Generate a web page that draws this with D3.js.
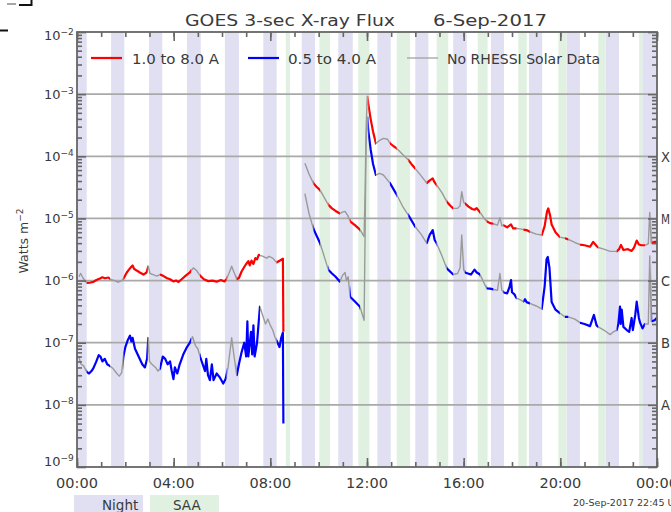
<!DOCTYPE html>
<html>
<head>
<meta charset="utf-8">
<script src="https://cdn.jsdelivr.net/npm/d3@7"></script>
<style>
  body { margin: 0; background: #fff; }
  svg { display: block; }
  text { font-family: "DejaVu Sans", "Liberation Sans", sans-serif; fill: #3a3a3a; }
</style>
</head>
<body>
<svg id="chart" width="671" height="512"></svg>
<script>
// GOES 3-second X-ray flux, 6 Sep 2017 (hours UT, W m^-2). null marks the data gap.
const longHours = [
  0.08,0.15,0.25,0.40,0.55,0.68,0.80,0.95,1.05,1.15,1.30,1.40,1.55,1.71,1.85,1.95,2.06,2.15,2.22,2.30,
  2.36,2.47,2.60,2.75,2.88,2.95,3.02,3.15,3.30,3.43,3.55,3.71,3.85,3.99,4.10,4.20,4.33,4.50,4.67,4.81,
  4.95,5.09,5.25,5.43,5.60,5.78,5.95,6.10,6.19,6.30,6.40,6.50,6.61,6.70,6.81,6.92,7.00,7.09,7.15,7.22,
  7.30,7.38,7.45,7.52,7.57,7.70,7.85,7.95,8.10,8.26,8.40,8.52,8.54,8.90,
  9.43,9.60,9.78,9.92,10.06,10.25,10.40,10.55,10.70,10.88,10.98,11.09,11.20,11.30,11.50,11.71,11.88,11.92,11.96,12.01,
  12.05,12.15,12.25,12.37,12.50,12.68,12.85,12.95,13.10,13.23,13.50,13.71,13.85,13.99,14.25,14.47,14.60,14.72,14.80,14.88,
  15.10,15.30,15.45,15.57,15.75,15.85,15.92,16.00,16.05,16.20,16.35,16.45,16.54,16.68,16.85,16.95,17.09,17.23,17.40,17.50,
  17.58,17.64,17.80,17.96,18.05,18.19,18.35,18.47,18.60,18.74,19.00,19.23,19.35,19.45,19.50,19.58,19.64,19.80,19.98,20.19,
  20.33,20.60,20.81,21.00,21.23,21.36,21.50,21.57,21.80,22.06,22.33,22.43,22.51,22.61,22.80,22.95,23.05,23.16,23.25,23.35,
  23.50,23.64,23.70,23.76,23.90,23.99
];
const longFlux = [
  1.15e-6,1.30e-6,1.10e-6,0.92e-6,0.93e-6,0.95e-6,1.02e-6,1.08e-6,1.13e-6,1.09e-6,1.12e-6,1.04e-6,1.00e-6,0.94e-6,1.00e-6,1.12e-6,1.35e-6,1.50e-6,1.62e-6,1.75e-6,
  1.55e-6,1.45e-6,1.35e-6,1.25e-6,1.35e-6,1.70e-6,1.30e-6,1.25e-6,1.18e-6,1.25e-6,1.20e-6,1.10e-6,1.05e-6,0.97e-6,1.00e-6,0.95e-6,1.05e-6,1.20e-6,1.35e-6,1.60e-6,
  1.45e-6,1.20e-6,1.05e-6,0.98e-6,1.00e-6,0.96e-6,1.02e-6,0.97e-6,1.05e-6,1.35e-6,1.70e-6,1.35e-6,1.05e-6,1.10e-6,1.40e-6,1.65e-6,1.85e-6,2.05e-6,1.75e-6,2.10e-6,
  1.85e-6,2.30e-6,2.20e-6,2.60e-6,2.55e-6,2.45e-6,2.30e-6,2.45e-6,2.30e-6,1.95e-6,2.10e-6,2.25e-6,1.50e-7,null,
  7.7e-5,5.2e-5,3.7e-5,3.2e-5,2.85e-5,2.1e-5,1.65e-5,1.45e-5,1.32e-5,1.20e-5,1.26e-5,1.30e-5,1.12e-5,9.0e-6,7.8e-6,6.6e-6,5.1e-6,2.5e-5,2.5e-4,9.3e-4,
  7.1e-4,4.0e-4,2.5e-4,1.6e-4,1.78e-4,1.94e-4,1.88e-4,1.62e-4,1.45e-4,1.34e-4,1.05e-4,8.7e-5,7.4e-5,6.4e-5,4.8e-5,3.7e-5,4.1e-5,4.4e-5,3.8e-5,3.45e-5,
  2.6e-5,1.86e-5,1.6e-5,1.45e-5,1.45e-5,1.6e-5,2.7e-5,1.8e-5,1.75e-5,1.55e-5,1.42e-5,1.38e-5,1.46e-5,1.25e-5,1.0e-5,9.0e-6,8.4e-6,8.2e-6,7.8e-6,1.03e-5,
  7.6e-6,7.8e-6,7.2e-6,8.0e-6,6.9e-6,6.9e-6,6.8e-6,6.6e-6,6.5e-6,6.1e-6,5.6e-6,5.4e-6,7.5e-6,1.3e-5,1.45e-5,1.1e-5,8.0e-6,6.0e-6,5.0e-6,4.8e-6,
  4.6e-6,4.1e-6,3.8e-6,3.7e-6,3.5e-6,4.2e-6,3.6e-6,3.4e-6,3.2e-6,2.95e-6,2.95e-6,3.2e-6,3.75e-6,3.1e-6,3.2e-6,3.0e-6,3.4e-6,4.4e-6,3.8e-6,3.7e-6,
  3.7e-6,3.9e-6,1.25e-5,4.0e-6,4.2e-6,4.2e-6
];

const shortHours = [
  0.08,0.15,0.28,0.40,0.50,0.60,0.68,0.80,0.90,0.97,1.05,1.15,1.25,1.37,1.50,1.65,1.75,1.85,1.92,2.00,
  2.10,2.19,2.25,2.30,2.40,2.55,2.70,2.81,2.90,2.95,3.00,3.10,3.25,3.35,3.43,3.55,3.65,3.75,3.85,3.92,
  3.99,4.05,4.15,4.25,4.40,4.55,4.67,4.78,4.90,5.00,5.09,5.20,5.30,5.35,5.42,5.50,5.58,5.65,5.78,5.90,
  6.05,6.15,6.25,6.40,6.50,6.61,6.70,6.81,6.92,7.00,7.05,7.09,7.20,7.25,7.30,7.35,7.45,7.57,7.65,7.80,
  7.90,8.00,8.10,8.20,8.30,8.38,8.45,8.52,8.54,8.90,
  9.43,9.60,9.78,9.92,10.06,10.25,10.40,10.55,10.70,10.88,10.98,11.09,11.15,11.22,11.30,11.50,11.71,11.88,11.92,11.96,
  12.01,12.05,12.15,12.25,12.37,12.52,12.68,12.95,13.23,13.50,13.71,13.99,14.25,14.47,14.60,14.72,14.80,14.88,15.10,15.30,
  15.57,15.75,15.85,15.92,16.00,16.05,16.30,16.45,16.54,16.68,16.85,16.95,17.09,17.23,17.40,17.50,17.58,17.64,17.80,17.90,
  17.96,18.00,18.10,18.19,18.35,18.47,18.54,18.60,18.74,19.00,19.23,19.35,19.43,19.48,19.55,19.64,19.80,19.98,20.19,20.33,
  20.60,20.81,21.00,21.23,21.39,21.50,21.57,21.80,22.06,22.20,22.33,22.40,22.47,22.50,22.54,22.61,22.75,22.85,22.95,23.00,
  23.10,23.16,23.25,23.30,23.40,23.50,23.64,23.70,23.76,23.90,23.99
];
const shortFlux = [
  6.0e-8,4.6e-8,4.2e-8,3.4e-8,3.2e-8,3.5e-8,3.9e-8,5.0e-8,6.3e-8,6.0e-8,5.0e-8,5.5e-8,4.5e-8,4.2e-8,3.8e-8,3.2e-8,2.9e-8,3.3e-8,6.0e-8,8.5e-8,
  1.10e-7,1.30e-7,1.05e-7,1.20e-7,8.0e-8,6.0e-8,4.5e-8,4.0e-8,5.5e-8,1.20e-7,5.0e-8,4.5e-8,4.0e-8,3.5e-8,3.8e-8,6.0e-8,5.5e-8,4.5e-8,5.0e-8,3.5e-8,
  2.6e-8,4.0e-8,3.2e-8,4.5e-8,6.5e-8,8.5e-8,1.00e-7,1.25e-7,9.0e-8,8.0e-8,6.0e-8,4.5e-8,3.5e-8,5.5e-8,3.0e-8,2.5e-8,4.5e-8,2.5e-8,3.2e-8,2.8e-8,
  2.2e-8,2.6e-8,4.0e-8,1.20e-7,6.0e-8,3.0e-8,4.5e-8,7.0e-8,1.00e-7,6.0e-8,2.2e-7,6.0e-8,1.50e-7,6.5e-8,1.90e-7,6.0e-8,1.00e-7,3.8e-7,3.0e-7,2.0e-7,
  2.4e-7,1.9e-7,1.6e-7,1.2e-7,1.0e-7,8.5e-8,1.2e-7,1.45e-7,5.0e-9,null,
  2.5e-5,1.2e-5,6.9e-6,5.2e-6,4.0e-6,2.3e-6,1.5e-6,1.3e-6,1.15e-6,9.6e-7,1.2e-6,1.35e-6,1.0e-6,1.15e-6,5.5e-7,4.6e-7,3.8e-7,2.3e-7,5.0e-6,1.5e-4,
  4.3e-4,2.65e-4,1.3e-4,7.5e-5,5.0e-5,5.3e-5,5.0e-5,3.7e-5,2.4e-5,1.5e-5,1.13e-5,7.4e-6,5.5e-6,4.0e-6,5.5e-6,6.5e-6,4.5e-6,4.0e-6,2.5e-6,1.57e-6,
  1.25e-6,1.3e-6,1.6e-6,5.4e-6,1.5e-6,1.35e-6,1.25e-6,1.5e-6,1.35e-6,1.25e-6,9.0e-7,7.5e-7,7.4e-7,7.2e-7,7.0e-7,1.3e-6,7.0e-7,6.5e-7,6.2e-7,8.0e-7,
  1.02e-6,6.5e-7,6.0e-7,5.2e-7,4.9e-7,4.6e-7,5.0e-7,4.5e-7,4.3e-7,3.9e-7,3.5e-7,8.0e-7,2.2e-6,2.4e-6,1.6e-6,4.5e-7,3.4e-7,3.0e-7,2.6e-7,2.6e-7,
  2.4e-7,2.1e-7,2.0e-7,1.85e-7,2.8e-7,1.9e-7,1.8e-7,1.6e-7,1.35e-7,1.5e-7,1.6e-7,2.0e-7,3.8e-7,2.0e-7,3.4e-7,1.8e-7,1.6e-7,1.5e-7,2.5e-7,1.6e-7,
  2.8e-7,4.6e-7,2.5e-7,2.1e-7,1.7e-7,2.0e-7,2.0e-7,2.5e-6,2.2e-7,2.3e-7,2.5e-7
];

// Spacecraft night and South Atlantic Anomaly passes (hours UT)
const nightBands = [
  [0.00,0.40],[1.41,1.96],[2.98,3.53],[4.55,5.12],[6.12,6.70],[7.71,8.26],[9.30,9.85],[10.81,11.41],
  [12.43,12.98],[14.00,14.54],[15.57,16.13],[17.13,17.67],[18.70,19.25],[20.26,20.81],[21.88,22.43],[23.39,24.00]
];
const saaBands = [
  [8.64,8.81],[10.03,10.47],[11.64,12.10],[13.23,13.78],[14.88,15.36],[16.58,16.99],[18.26,18.61],
  [19.92,20.26],[21.57,21.88],[23.26,23.39]
];
// Intervals without RHESSI solar data (curves drawn in grey there)
const noRhessi = [
  [0.00,0.40],[1.37,1.92],[2.93,3.43],[4.72,5.09],[6.19,6.61],[7.57,8.26],[9.30,9.78],[10.06,10.40],
  [10.88,11.30],[11.71,12.05],[12.37,12.95],[13.23,13.71],[13.99,14.47],[14.88,15.30],[15.57,16.05],
  [16.68,16.95],[17.23,17.64],[18.19,18.47],[18.74,19.23],[19.98,20.19],[20.33,20.81],[21.57,22.33],[23.50,23.78]
];

const xMajorHours = [0, 4, 8, 12, 16, 20, 24];
const xTickLabels = ["00:00", "04:00", "08:00", "12:00", "16:00", "20:00", "00:00"];
const yDecadeExps = [-2, -3, -4, -5, -6, -7, -8, -9];
const flareClasses = ["X", "M", "C", "B", "A"];
const flareLevels = [1e-4, 1e-5, 1e-6, 1e-7, 1e-8];

const svg = d3.select("#chart");
const W = 671, H = 512;
const P = { left: 77, right: 657, top: 32, bottom: 467 };

const x = d3.scaleLinear().domain([0, 24]).range([P.left, P.right]);
const y = d3.scaleLog().domain([1e-9, 1e-2]).range([P.bottom, P.top]);

const NIGHT = "#e0e0f2", SAA = "#e1f1e1", AXIS = "#666";

// Background orbit bands
const bandG = svg.append("g");
bandG.selectAll("rect.night").data(nightBands).join("rect")
  .attr("x", d => x(d[0])).attr("width", d => x(d[1]) - x(d[0]))
  .attr("y", P.top).attr("height", P.bottom - P.top).attr("fill", NIGHT);
bandG.selectAll("rect.saa").data(saaBands).join("rect")
  .attr("x", d => x(d[0])).attr("width", d => x(d[1]) - x(d[0]))
  .attr("y", P.top).attr("height", P.bottom - P.top).attr("fill", SAA);

// Decade grid lines
svg.append("g").selectAll("line").data(yDecadeExps.slice(1, -1)).join("line")
  .attr("x1", P.left).attr("x2", P.right)
  .attr("y1", e => y(Math.pow(10, e))).attr("y2", e => y(Math.pow(10, e)))
  .attr("stroke", "#a9a9a9").attr("stroke-width", 1.8);

// Clip regions: with and without RHESSI coverage
const gaps = noRhessi.slice().sort((a, b) => a[0] - b[0]);
const covered = [];
let cur = 0;
gaps.forEach(g => { if (g[0] > cur) covered.push([cur, g[0]]); cur = Math.max(cur, g[1]); });
if (cur < 24) covered.push([cur, 24]);

const defs = svg.append("defs");
function clipFrom(id, spans) {
  defs.append("clipPath").attr("id", id).selectAll("rect").data(spans).join("rect")
    .attr("x", d => x(d[0])).attr("width", d => x(d[1]) - x(d[0]))
    .attr("y", 0).attr("height", H);
}
clipFrom("clip-gap", gaps);
clipFrom("clip-cov", covered);

const line = d3.line()
  .defined(d => d[1] != null)
  .x(d => x(d[0])).y(d => y(d[1]));

const longPts = longHours.map((h, i) => [h, longFlux[i]]);
const shortPts = shortHours.map((h, i) => [h, shortFlux[i]]);

const curves = svg.append("g").attr("fill", "none").attr("stroke-linejoin", "round");
[[longPts, "#ff0000"], [shortPts, "#0000ff"]].forEach(([pts, col]) => {
  curves.append("path").attr("d", line(pts)).attr("stroke", "#9a9a9a")
    .attr("stroke-width", 1.4).attr("clip-path", "url(#clip-gap)");
  curves.append("path").attr("d", line(pts)).attr("stroke", col)
    .attr("stroke-width", 2.2).attr("clip-path", "url(#clip-cov)");
});

// Axes frame and ticks
const minorY = [];
yDecadeExps.forEach(e => { if (e < -2) for (let k = 2; k <= 9; k++) minorY.push(k * Math.pow(10, e)); });
const decades = yDecadeExps.map(e => Math.pow(10, e));
const hoursAll = d3.range(0, 25);

function styleAxis(g) {
  g.select(".domain").remove();
  g.selectAll(".tick line").attr("stroke", AXIS).attr("stroke-width", 1.6);
  g.selectAll(".tick text").remove();
}
svg.append("g").attr("transform", `translate(${P.left},0)`)
  .call(d3.axisLeft(y).tickValues(minorY).tickSize(-5)).call(styleAxis);
svg.append("g").attr("transform", `translate(${P.left},0)`)
  .call(d3.axisLeft(y).tickValues(decades).tickSize(-9)).call(styleAxis);
svg.append("g").attr("transform", `translate(${P.right},0)`)
  .call(d3.axisRight(y).tickValues(minorY).tickSize(-5)).call(styleAxis);
svg.append("g").attr("transform", `translate(${P.right},0)`)
  .call(d3.axisRight(y).tickValues(decades).tickSize(-9)).call(styleAxis);
svg.append("g").attr("transform", `translate(0,${P.bottom})`)
  .call(d3.axisBottom(x).tickValues(hoursAll).tickSize(-5)).call(styleAxis);
svg.append("g").attr("transform", `translate(0,${P.bottom})`)
  .call(d3.axisBottom(x).tickValues(xMajorHours).tickSize(-9)).call(styleAxis);
svg.append("g").attr("transform", `translate(0,${P.top})`)
  .call(d3.axisTop(x).tickValues(hoursAll).tickSize(-5)).call(styleAxis);
svg.append("g").attr("transform", `translate(0,${P.top})`)
  .call(d3.axisTop(x).tickValues(xMajorHours).tickSize(-9)).call(styleAxis);

svg.append("rect").attr("x", P.left).attr("y", P.top)
  .attr("width", P.right - P.left).attr("height", P.bottom - P.top)
  .attr("fill", "none").attr("stroke", AXIS).attr("stroke-width", 1.8);

// X tick labels
svg.append("g").selectAll("text").data(xMajorHours).join("text")
  .attr("x", d => x(d)).attr("y", 488).attr("text-anchor", "middle")
  .attr("font-size", 14.5).text((d, i) => xTickLabels[i]);

// Y tick labels (powers of ten)
const yl = svg.append("g").selectAll("text").data(yDecadeExps).join("text")
  .attr("x", 44)
  .attr("y", e => {
    const yy = y(Math.pow(10, e)) + 4.5;
    return Math.min(Math.max(yy, 39.5), 466);
  })
  .attr("font-size", 13);
yl.append("tspan").text("10");
yl.append("tspan").attr("font-size", 9).attr("dy", -5).text(e => "\u2212" + (-e));

// Flare class letters
svg.append("g").selectAll("text").data(flareClasses).join("text")
  .attr("x", 661).attr("y", (d, i) => y(flareLevels[i]) + 5.5)
  .attr("font-size", 13.5).attr("textLength", 9).attr("lengthAdjust", "spacingAndGlyphs")
  .text(d => d);

// Y axis title
const yt = svg.append("text").attr("transform", "translate(28,241) rotate(-90)")
  .attr("text-anchor", "middle").attr("font-size", 12.5);
yt.append("tspan").text("Watts m");
yt.append("tspan").attr("font-size", 9).attr("dy", -5).text("\u22122");

// Title
svg.append("text").attr("x", 185).attr("y", 26).attr("font-size", 16.5)
  .attr("textLength", 210).attr("lengthAdjust", "spacingAndGlyphs").text("GOES 3-sec X-ray Flux");
svg.append("text").attr("x", 433).attr("y", 26).attr("font-size", 16.5)
  .attr("textLength", 114).attr("lengthAdjust", "spacingAndGlyphs").text("6-Sep-2017");

// Legend
const legendItems = [
  { label: "1.0 to 8.0 A", color: "#ff0000", x0: 91, tx: 132, tw: 87, sw: 2.2 },
  { label: "0.5 to 4.0 A", color: "#0000ff", x0: 248, tx: 288, tw: 88, sw: 2.2 },
  { label: "No RHESSI Solar Data", color: "#9a9a9a", x0: 407, tx: 447, tw: 153, sw: 1.2 }
];
const lg = svg.append("g").selectAll("g").data(legendItems).join("g");
lg.append("line").attr("x1", d => d.x0).attr("x2", d => d.x0 + 31)
  .attr("y1", 58).attr("y2", 58).attr("stroke", d => d.color).attr("stroke-width", d => d.sw);
lg.append("text").attr("x", d => d.tx).attr("y", 63.5).attr("font-size", 14)
  .attr("textLength", d => d.tw).attr("lengthAdjust", "spacingAndGlyphs").text(d => d.label);

// Night / SAA key
const keys = [
  { label: "Night", fill: NIGHT, x0: 74, tx: 102 },
  { label: "SAA", fill: SAA, x0: 150, tx: 173 }
];
const kg = svg.append("g").selectAll("g").data(keys).join("g");
kg.append("rect").attr("x", d => d.x0).attr("y", 495).attr("width", 69).attr("height", 20).attr("fill", d => d.fill);
kg.append("text").attr("x", d => d.tx).attr("y", 509.5).attr("font-size", 13.5).text(d => d.label);

// Plot creation stamp
svg.append("text").attr("x", 573).attr("y", 506).attr("font-size", 9.5).text("20-Sep-2017 22:45 UTC");

// Corner marks
const marks = svg.append("g").attr("stroke-linecap", "butt");
marks.append("line").attr("x1", 7).attr("x2", 16).attr("y1", 4).attr("y2", 4).attr("stroke", "#888").attr("stroke-width", 1.5);
marks.append("line").attr("x1", 19).attr("x2", 32).attr("y1", 5).attr("y2", 5).attr("stroke", "#111").attr("stroke-width", 2);
marks.append("line").attr("x1", 31.5).attr("x2", 31.5).attr("y1", 0).attr("y2", 6).attr("stroke", "#111").attr("stroke-width", 2);
marks.append("line").attr("x1", 0).attr("x2", 8).attr("y1", 30.5).attr("y2", 30.5).attr("stroke", "#111").attr("stroke-width", 2);
</script>
</body>
</html>
